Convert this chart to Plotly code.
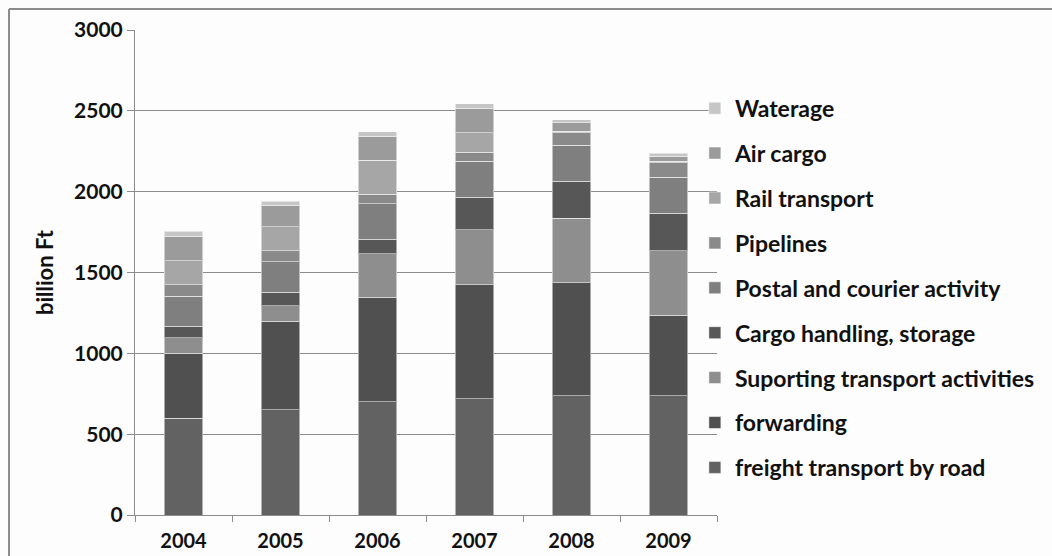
import plotly.graph_objects as go

years = ["2004", "2005", "2006", "2007", "2008", "2009"]

# billion Ft, by activity (bottom of the stack first)
freight_road = [600, 650, 700, 718, 739, 739]
forwarding = [400, 548, 648, 706, 697, 496]
supporting = [95, 96, 267, 341, 399, 399]
cargo_handling = [72, 83, 91, 200, 231, 234]
postal_courier = [187, 189, 220, 222, 220, 220]
pipelines = [70, 70, 58, 56, 78, 91]
rail = [150, 148, 209, 123, 10, 8]
air_cargo = [150, 132, 151, 150, 52, 33]
waterage = [30, 26, 28, 27, 20, 17]

series = [
    ("freight transport by road", freight_road, "#626262"),
    ("forwarding", forwarding, "#505050"),
    ("Suporting transport activities", supporting, "#8e8e8e"),
    ("Cargo handling, storage", cargo_handling, "#575757"),
    ("Postal and courier activity", postal_courier, "#7f7f7f"),
    ("Pipelines", pipelines, "#8a8a8a"),
    ("Rail transport", rail, "#a6a6a6"),
    ("Air cargo", air_cargo, "#9b9b9b"),
    ("Waterage", waterage, "#c6c6c6"),
]

FONT = "Lato"
fig = go.Figure()
n = len(series)
for i, (name, vals, col) in enumerate(series):
    fig.add_trace(go.Bar(
        x=years, y=vals, name=name, legendgroup=f"g{i}",
        legendrank=(n - i) * 10,  # top of the stack listed first
        marker=dict(color=col, line=dict(color="rgba(255,255,255,0.5)", width=1)),
    ))

W, H = 1052, 556
L, R, T, B = 135, 335, 30, 41

fig.update_layout(
    width=W, height=H,
    margin=dict(l=L, r=R, t=T, b=B, autoexpand=False),
    barmode="stack",
    bargap=0.6,
    paper_bgcolor="#fdfdfd",
    plot_bgcolor="#fdfdfd",
    font=dict(family=FONT, color="#111111"),
    legend=dict(
        x=0.962, y=0.883, xanchor="left", yanchor="top",
        traceorder="grouped", tracegroupgap=12,
        font=dict(family=FONT, size=23, color="#111111", weight="bold"),
        bgcolor="rgba(0,0,0,0)", itemwidth=30,
    ),
    xaxis=dict(
        automargin=False,
        showline=True, linecolor="#8c8c8c", linewidth=1,
        ticks="outside", tickson="boundaries", ticklen=6, tickcolor="#8c8c8c",
        tickfont=dict(family=FONT, size=20, color="#111111", weight="bold"),
        ticklabelstandoff=8,
    ),
    yaxis=dict(
        automargin=False,
        range=[0, 3000], dtick=500,
        showline=True, linecolor="#8c8c8c", linewidth=1,
        showgrid=True, gridcolor="#8c8c8c", gridwidth=1,
        ticks="outside", ticklen=7, tickcolor="#8c8c8c",
        tickfont=dict(family=FONT, size=21, color="#111111", weight="bold"),
        zeroline=False,
        title=dict(text="billion Ft", standoff=14,
                   font=dict(family=FONT, size=22, color="#111111", weight="bold")),
    ),
    shapes=[
        dict(type="line", xref="paper", yref="paper",
             x0=(9 - L) / 582, x1=(W + 5 - L) / 582,
             y0=(515 - 9) / 485, y1=(515 - 9) / 485,
             line=dict(color="#8c8c8c", width=2)),
        dict(type="line", xref="paper", yref="paper",
             x0=(9 - L) / 582, x1=(9 - L) / 582,
             y0=(515 - 9) / 485, y1=(515 - H - 5) / 485,
             line=dict(color="#8c8c8c", width=2)),
    ],
)

fig.write_html("out.html")
